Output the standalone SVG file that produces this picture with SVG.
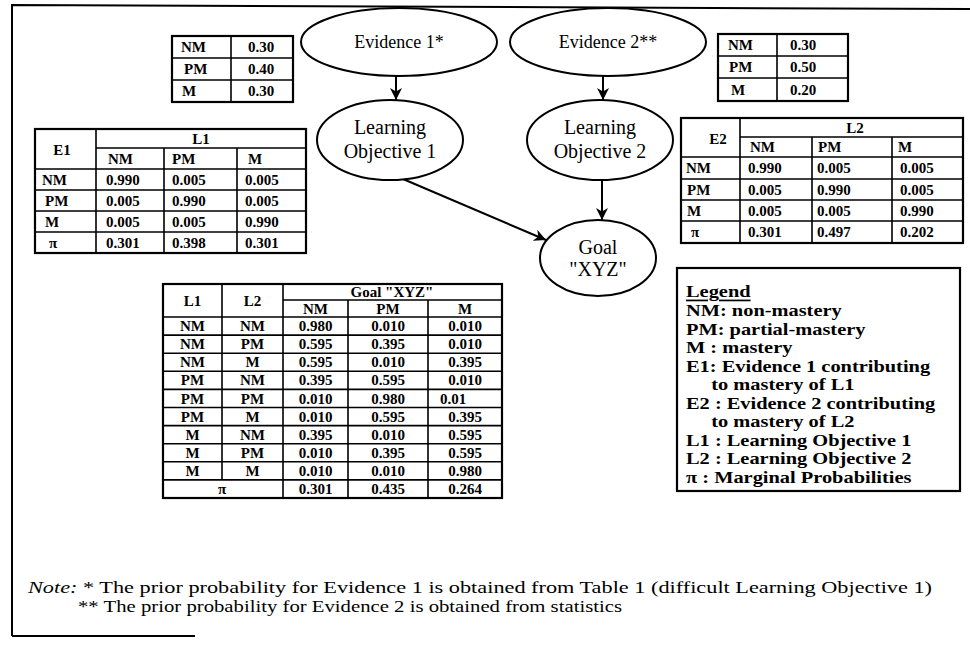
<svg xmlns="http://www.w3.org/2000/svg" width="970" height="654" viewBox="0 0 970 654">
<defs>
<style>
.tb{font-family:"Liberation Serif","Times New Roman",serif;font-weight:bold;font-size:15px;dominant-baseline:central;fill:#000}
.c{text-anchor:middle}
.grid{fill:none;stroke:#000;stroke-width:1.6}
.out{fill:#fff;stroke:#000;stroke-width:2.2}
.node{fill:#fff;stroke:#000;stroke-width:2}
.lab{font-family:"Liberation Serif","Times New Roman",serif;font-size:20px;text-anchor:middle;dominant-baseline:central;fill:#000}
.leg{font-family:"Liberation Serif","Times New Roman",serif;font-weight:bold;font-size:17px;dominant-baseline:central;fill:#000}
.note{font-family:"Liberation Serif","Times New Roman",serif;font-size:16.5px;dominant-baseline:central;fill:#000}
.edge{stroke:#000;stroke-width:2;fill:none;marker-end:url(#ah)}
.frame{stroke:#000;stroke-width:2;fill:none}
</style>
<marker id="ah" viewBox="0 0 10 10" refX="10" refY="5" markerWidth="12" markerHeight="12" markerUnits="userSpaceOnUse" orient="auto">
<path d="M0,0 L10,5 L0,10 L3,5 z" fill="#000"/>
</marker>
</defs>
<rect width="970" height="654" fill="#fff"/>
<path class="frame" d="M12,636 V5 L970,9 M12,636 H195"/>

<g id="connectors">
<line class="edge" x1="396" y1="76" x2="396" y2="100"/>
<line class="edge" x1="603" y1="76" x2="603" y2="100"/>
<line class="edge" x1="602" y1="180" x2="602" y2="220"/>
<line class="edge" x1="403" y1="179" x2="546" y2="240"/>
</g>

<g id="evidence1">
<ellipse class="node" cx="399" cy="42" rx="98" ry="34"/>
<text class="lab" x="399" y="42" style="font-size:18px">Evidence 1*</text>
</g>
<g id="evidence2">
<ellipse class="node" cx="608" cy="42" rx="98" ry="34"/>
<text class="lab" x="608" y="42" style="font-size:18px">Evidence 2**</text>
</g>
<g id="lo1">
<ellipse class="node" cx="390" cy="140" rx="73" ry="40"/>
<text class="lab" x="390" y="127">Learning</text>
<text class="lab" x="390" y="151">Objective 1</text>
</g>
<g id="lo2">
<ellipse class="node" cx="600" cy="140" rx="73" ry="40"/>
<text class="lab" x="600" y="127">Learning</text>
<text class="lab" x="600" y="151">Objective 2</text>
</g>
<g id="goal">
<ellipse class="node" cx="598" cy="258" rx="58" ry="38"/>
<text class="lab" x="598" y="247">Goal</text>
<text class="lab" x="598" y="269">"XYZ"</text>
</g>

<g id="prior-e1">
<rect class="out" x="172" y="36" width="121" height="66"/>
<path class="grid" d="M231,36V102M172,58H293M172,80H293"/>
<text class="tb" x="181" y="47">NM</text><text class="tb c" x="261" y="47">0.30</text>
<text class="tb" x="184" y="69">PM</text><text class="tb c" x="261" y="69">0.40</text>
<text class="tb" x="182" y="91">M</text><text class="tb c" x="261" y="91">0.30</text>
</g>

<g id="prior-e2">
<rect class="out" x="718" y="34" width="130" height="67"/>
<path class="grid" d="M777,34V101M718,56H848M718,78H848"/>
<text class="tb" x="728" y="45">NM</text><text class="tb" x="790" y="45">0.30</text>
<text class="tb" x="729" y="67">PM</text><text class="tb" x="790" y="67">0.50</text>
<text class="tb" x="731" y="89.5">M</text><text class="tb" x="790" y="89.5">0.20</text>
</g>

<g id="cpt-e1">
<rect class="out" x="35" y="129" width="271" height="124"/>
<path class="grid" d="M96,129V253M164,148V253M237,148V253M96,148H306M35,169H306M35,190H306M35,211H306M35,232H306"/>
<text class="tb c" x="62" y="150">E1</text>
<text class="tb c" x="201" y="138.5">L1</text>
<text class="tb" x="108" y="158.5">NM</text><text class="tb" x="172" y="158.5">PM</text><text class="tb" x="248" y="158.5">M</text>
<text class="tb" x="42" y="179.5">NM</text><text class="tb" x="106" y="179.5">0.990</text><text class="tb" x="172" y="179.5">0.005</text><text class="tb" x="245" y="179.5">0.005</text>
<text class="tb" x="45" y="200.5">PM</text><text class="tb" x="106" y="200.5">0.005</text><text class="tb" x="172" y="200.5">0.990</text><text class="tb" x="245" y="200.5">0.005</text>
<text class="tb" x="45" y="221.5">M</text><text class="tb" x="106" y="221.5">0.005</text><text class="tb" x="172" y="221.5">0.005</text><text class="tb" x="245" y="221.5">0.990</text>
<text class="tb" x="49" y="242.5">π</text><text class="tb" x="106" y="242.5">0.301</text><text class="tb" x="172" y="242.5">0.398</text><text class="tb" x="245" y="242.5">0.301</text>
</g>

<g id="cpt-e2">
<rect class="out" x="681" y="118" width="282" height="125"/>
<path class="grid" d="M740,118V243M812,137V243M892,137V243M740,137H963M681,157H963M681,179H963M681,200H963M681,221H963"/>
<text class="tb c" x="718" y="139">E2</text>
<text class="tb c" x="855" y="127.5">L2</text>
<text class="tb" x="750" y="147">NM</text><text class="tb" x="818" y="147">PM</text><text class="tb" x="898" y="147">M</text>
<text class="tb" x="686" y="168">NM</text><text class="tb" x="748" y="168">0.990</text><text class="tb" x="817" y="168">0.005</text><text class="tb" x="900" y="168">0.005</text>
<text class="tb" x="687" y="189.5">PM</text><text class="tb" x="748" y="189.5">0.005</text><text class="tb" x="817" y="189.5">0.990</text><text class="tb" x="900" y="189.5">0.005</text>
<text class="tb" x="687" y="210.5">M</text><text class="tb" x="748" y="210.5">0.005</text><text class="tb" x="817" y="210.5">0.005</text><text class="tb" x="900" y="210.5">0.990</text>
<text class="tb" x="691" y="232">π</text><text class="tb" x="748" y="232">0.301</text><text class="tb" x="817" y="232">0.497</text><text class="tb" x="900" y="232">0.202</text>
</g>

<g id="cpt-goal">
<rect class="out" x="163" y="284" width="339" height="214"/>
<path class="grid" d="M222,284V479.9M283,284V498M348,300V498M428,300V498M283,300H502M163,317H502M163,335.1H502M163,353.2H502M163,371.3H502M163,389.4H502M163,407.5H502M163,425.6H502M163,443.7H502M163,461.8H502M163,479.9H502"/>
<text class="tb c" x="192.5" y="300.5">L1</text><text class="tb c" x="252.5" y="300.5">L2</text>
<text class="tb c" x="392" y="292">Goal "XYZ"</text>
<text class="tb c" x="315.5" y="308.5">NM</text><text class="tb c" x="388" y="308.5">PM</text><text class="tb c" x="465" y="308.5">M</text>
<text class="tb c" x="192.5" y="326">NM</text><text class="tb c" x="252.5" y="326">NM</text><text class="tb c" x="315.5" y="326">0.980</text><text class="tb c" x="388" y="326">0.010</text><text class="tb c" x="465" y="326">0.010</text>
<text class="tb c" x="192.5" y="344.2">NM</text><text class="tb c" x="252.5" y="344.2">PM</text><text class="tb c" x="315.5" y="344.2">0.595</text><text class="tb c" x="388" y="344.2">0.395</text><text class="tb c" x="465" y="344.2">0.010</text>
<text class="tb c" x="192.5" y="362.3">NM</text><text class="tb c" x="252.5" y="362.3">M</text><text class="tb c" x="315.5" y="362.3">0.595</text><text class="tb c" x="388" y="362.3">0.010</text><text class="tb c" x="465" y="362.3">0.395</text>
<text class="tb c" x="192.5" y="380.4">PM</text><text class="tb c" x="252.5" y="380.4">NM</text><text class="tb c" x="315.5" y="380.4">0.395</text><text class="tb c" x="388" y="380.4">0.595</text><text class="tb c" x="465" y="380.4">0.010</text>
<text class="tb c" x="192.5" y="398.5">PM</text><text class="tb c" x="252.5" y="398.5">PM</text><text class="tb c" x="315.5" y="398.5">0.010</text><text class="tb c" x="388" y="398.5">0.980</text><text class="tb" x="440" y="398.5">0.01</text>
<text class="tb c" x="192.5" y="416.6">PM</text><text class="tb c" x="252.5" y="416.6">M</text><text class="tb c" x="315.5" y="416.6">0.010</text><text class="tb c" x="388" y="416.6">0.595</text><text class="tb c" x="465" y="416.6">0.395</text>
<text class="tb c" x="192.5" y="434.7">M</text><text class="tb c" x="252.5" y="434.7">NM</text><text class="tb c" x="315.5" y="434.7">0.395</text><text class="tb c" x="388" y="434.7">0.010</text><text class="tb c" x="465" y="434.7">0.595</text>
<text class="tb c" x="192.5" y="452.8">M</text><text class="tb c" x="252.5" y="452.8">PM</text><text class="tb c" x="315.5" y="452.8">0.010</text><text class="tb c" x="388" y="452.8">0.395</text><text class="tb c" x="465" y="452.8">0.595</text>
<text class="tb c" x="192.5" y="470.9">M</text><text class="tb c" x="252.5" y="470.9">M</text><text class="tb c" x="315.5" y="470.9">0.010</text><text class="tb c" x="388" y="470.9">0.010</text><text class="tb c" x="465" y="470.9">0.980</text>
<text class="tb c" x="222" y="489">π</text><text class="tb c" x="315.5" y="489">0.301</text><text class="tb c" x="388" y="489">0.435</text><text class="tb c" x="465" y="489">0.264</text>
</g>

<g id="legend">
<rect class="out" x="677" y="268" width="283" height="223"/>
<g transform="translate(686,0) scale(1.2,1) translate(-686,0)">
<text class="leg" x="686" y="291" text-decoration="underline">Legend</text>
<text class="leg" x="686" y="310">NM: non-mastery</text>
<text class="leg" x="686" y="329">PM: partial-mastery</text>
<text class="leg" x="686" y="347">M : mastery</text>
<text class="leg" x="686" y="366">E1: Evidence 1 contributing</text>
<text class="leg" x="707" y="384">to mastery of L1</text>
<text class="leg" x="686" y="403">E2 : Evidence 2 contributing</text>
<text class="leg" x="707" y="421">to mastery of L2</text>
<text class="leg" x="686" y="440">L1 : Learning Objective 1</text>
<text class="leg" x="686" y="458">L2 : Learning Objective 2</text>
<text class="leg" x="686" y="477">π : Marginal Probabilities</text>
</g>
</g>

<g id="note">
<text class="note" x="28" y="587" textLength="904" lengthAdjust="spacingAndGlyphs"><tspan font-style="italic">Note:</tspan> * The prior probability for Evidence 1 is obtained from Table 1 (difficult Learning Objective 1)</text>
<text class="note" x="78" y="606" textLength="544" lengthAdjust="spacingAndGlyphs">** The prior probability for Evidence 2 is obtained from statistics</text>
</g>
</svg>
